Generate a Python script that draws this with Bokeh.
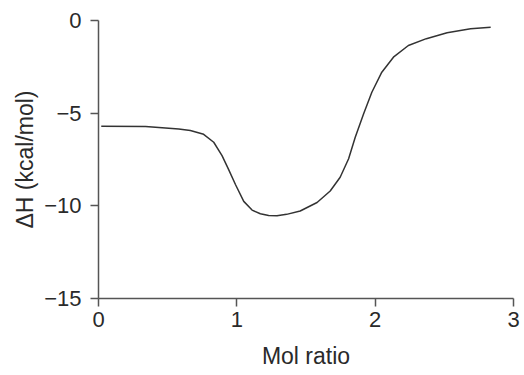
from bokeh.plotting import figure
from bokeh.models import Range1d, FixedTicker
from bokeh.embed import file_html
from bokeh.resources import INLINE

mol_ratio = [0.02, 0.34, 0.58, 0.664, 0.76, 0.833, 0.893, 0.941, 0.99, 1.05,
             1.11, 1.17, 1.23, 1.29, 1.36, 1.458, 1.58, 1.675, 1.747, 1.808,
             1.856, 1.916, 1.976, 2.048, 2.132, 2.24, 2.37, 2.52, 2.69, 2.835]
delta_h = [-5.70, -5.72, -5.85, -5.94, -6.14, -6.57, -7.29, -8.05, -8.85, -9.76,
           -10.23, -10.43, -10.52, -10.54, -10.46, -10.28, -9.82, -9.20, -8.46, -7.46,
           -6.30, -5.04, -3.87, -2.79, -1.98, -1.35, -0.98, -0.66, -0.45, -0.36]
x_ticks = [0, 1, 2, 3]
y_ticks = [0, -5, -10, -15]
y_tick_labels = ["0", "\u22125", "\u221210", "\u221215"]
x_title = "Mol ratio"
y_title = "\u0394H (kcal/mol)"

p = figure(width=524, height=375, output_backend="svg", toolbar_location=None,
           x_range=Range1d(0, 3), y_range=Range1d(-15, 0),
           min_border_left=98, min_border_top=20, min_border_right=11, min_border_bottom=77)
p.outline_line_color = None
p.grid.visible = False
p.background_fill_color = "white"
p.border_fill_color = "white"

p.line(mol_ratio, delta_h, line_color="#333333", line_width=1.5, line_join="round")

FONT = "Liberation Sans"
for ax in (p.xaxis[0], p.yaxis[0]):
    ax.axis_line_color = "#555555"
    ax.axis_line_width = 1.5
    ax.major_tick_line_color = "#555555"
    ax.major_tick_line_width = 1.5
    ax.major_tick_out = 8
    ax.major_tick_in = 0
    ax.minor_tick_line_color = None
    ax.major_label_text_font = FONT
    ax.major_label_text_font_size = "22px"
    ax.major_label_text_color = "#2a2a2a"
    ax.axis_label_text_font = FONT
    ax.axis_label_text_font_size = "23px"
    ax.axis_label_text_font_style = "normal"
    ax.axis_label_text_color = "#2a2a2a"

p.xaxis.ticker = FixedTicker(ticks=x_ticks)
p.yaxis.ticker = FixedTicker(ticks=y_ticks)
p.yaxis.major_label_overrides = {t: s for t, s in zip(y_ticks, y_tick_labels)}
p.xaxis.axis_label = x_title
p.yaxis.axis_label = y_title
p.xaxis.major_label_standoff = 5
p.xaxis.axis_label_standoff = 13
p.yaxis.major_label_standoff = 9
p.yaxis.axis_label_standoff = 3

open("out.html", "w").write(file_html(p, INLINE))
